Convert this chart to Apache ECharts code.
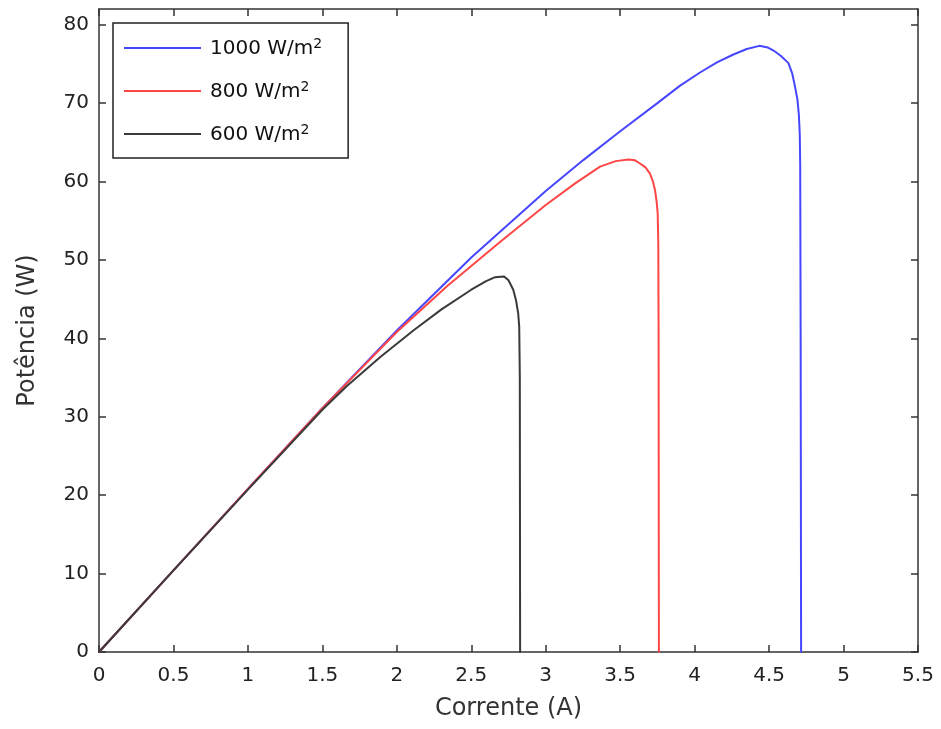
<!DOCTYPE html>
<html>
<head>
<meta charset="utf-8">
<script src="https://cdn.jsdelivr.net/npm/echarts@6/dist/echarts.min.js"></script>
<style>
html,body{margin:0;padding:0;background:#fff;}
#chart{width:941px;height:729px;}
</style>
</head>
<body>
<div id="chart"></div>
<script>
// Data (Current in A, Power in W)
const seriesNames = ['1000 W/m2', '800 W/m2', '600 W/m2'];
const xTicks = [0, 0.5, 1, 1.5, 2, 2.5, 3, 3.5, 4, 4.5, 5, 5.5];
const yTicks = [0, 10, 20, 30, 40, 50, 60, 70, 80];

const current1000 = [0, 0.5, 1.0, 1.5, 2.0, 2.5, 3.0, 3.25, 3.5, 3.75, 3.9, 4.036, 4.15, 4.26, 4.35, 4.435, 4.49, 4.53, 4.58, 4.63, 4.655, 4.674, 4.69, 4.70, 4.706, 4.709, 4.712, 4.715];
const power1000   = [0, 10.4, 20.8, 31.1, 41.0, 50.3, 58.8, 62.7, 66.4, 70.0, 72.2, 73.9, 75.2, 76.2, 76.9, 77.3, 77.1, 76.7, 76.0, 75.1, 73.8, 72.1, 70.5, 68.5, 66.0, 62.0, 40.0, 0];

const current800 = [0, 0.5, 1.0, 1.5, 2.0, 2.335, 2.693, 3.0, 3.2, 3.365, 3.47, 3.555, 3.60, 3.633, 3.67, 3.70, 3.72, 3.734, 3.745, 3.752, 3.756, 3.758, 3.76];
const power800   = [0, 10.4, 20.8, 31.1, 40.8, 46.6, 52.3, 57.0, 59.8, 61.9, 62.6, 62.8, 62.7, 62.3, 61.8, 61.0, 60.0, 58.9, 57.4, 55.9, 52.0, 40.0, 0];

const current600 = [0, 0.5, 1.0, 1.5, 1.663, 1.887, 2.111, 2.3, 2.5, 2.6, 2.66, 2.72, 2.75, 2.782, 2.80, 2.815, 2.822, 2.826, 2.828];
const power600   = [0, 10.4, 20.7, 30.9, 33.9, 37.6, 41.0, 43.7, 46.2, 47.3, 47.8, 47.9, 47.4, 46.2, 44.9, 43.2, 41.5, 35.0, 0];

const colors = ['#4646ff', '#ff4646', '#3a3a3a'];

function pairs(xs, ys) { return xs.map((x, i) => [x, ys[i]]); }

const FONT = '"DejaVu Sans", "Liberation Sans", Arial, sans-serif';
const axisColor = '#333';

const chart = echarts.init(document.getElementById('chart'), null, {renderer: 'canvas'});

function lineSeries(i, xs, ys) {
  return {
    name: seriesNames[i], type: 'line', data: pairs(xs, ys),
    showSymbol: false, symbol: 'none', smooth: false,
    lineStyle: {color: colors[i], width: 2, join: 'round', cap: 'round'}, itemStyle: {color: colors[i]}
  };
}

const option = {
  backgroundColor: '#fff',
  animation: false,
  textStyle: {fontFamily: FONT},
  grid: {left: 99, right: 23, top: 9, bottom: 77, containLabel: false},
  legend: {
    orient: 'vertical',
    left: 113, top: 23,
    padding: [14, 26, 13, 11],
    itemGap: 21,
    itemWidth: 77,
    itemHeight: 2,
    icon: 'rect',
    backgroundColor: '#fff',
    borderColor: '#222',
    borderWidth: 1.5,
    borderRadius: 0,
    data: seriesNames,
    formatter: function (name) {
      return '{b|' + name.slice(0, -1) + '}{s|2}';
    },
    textStyle: {
      fontFamily: FONT,
      color: '#111',
      rich: {
        b: {fontSize: 20, fontFamily: FONT, color: '#111', lineHeight: 22, verticalAlign: 'bottom', padding: [0, 0, 0, 4]},
        s: {fontSize: 14, fontFamily: FONT, color: '#111', lineHeight: 22, verticalAlign: 'top'}
      }
    }
  },
  xAxis: [
    {
      type: 'value', min: 0, max: 5.5, interval: 0.5,
      name: 'Corrente (A)', nameLocation: 'middle', nameGap: 45,
      nameTextStyle: {fontSize: 24, color: '#333', fontFamily: FONT},
      axisLine: {show: true, onZero: false, lineStyle: {color: axisColor, width: 1.5}},
      axisTick: {show: true, inside: true, length: 7, lineStyle: {color: axisColor, width: 1.5}},
      axisLabel: {fontSize: 20, color: '#222', margin: 14, fontFamily: FONT},
      splitLine: {show: false}
    },
    {
      type: 'value', min: 0, max: 5.5, interval: 0.5, position: 'top',
      axisLine: {show: true, onZero: false, lineStyle: {color: axisColor, width: 1.5}},
      axisTick: {show: true, inside: true, length: 7, lineStyle: {color: axisColor, width: 1.5}},
      axisLabel: {show: false},
      splitLine: {show: false}
    }
  ],
  yAxis: [
    {
      type: 'value', min: 0, max: 82, interval: 10,
      name: 'Potência (W)', nameLocation: 'middle', nameGap: 59,
      nameTextStyle: {fontSize: 24, color: '#333', fontFamily: FONT},
      axisLine: {show: true, onZero: false, lineStyle: {color: axisColor, width: 1.5}},
      axisTick: {show: true, inside: true, length: 7, customValues: yTicks, lineStyle: {color: axisColor, width: 1.5}},
      axisLabel: {fontSize: 20, color: '#222', margin: 10, customValues: yTicks, fontFamily: FONT},
      splitLine: {show: false}
    },
    {
      type: 'value', min: 0, max: 82, interval: 10, position: 'right',
      axisLine: {show: true, onZero: false, lineStyle: {color: axisColor, width: 1.5}},
      axisTick: {show: true, inside: true, length: 7, customValues: yTicks, lineStyle: {color: axisColor, width: 1.5}},
      axisLabel: {show: false},
      splitLine: {show: false}
    }
  ],
  series: [
    lineSeries(0, current1000, power1000),
    lineSeries(1, current800, power800),
    lineSeries(2, current600, power600)
  ]
};
chart.setOption(option);
</script>
</body>
</html>
